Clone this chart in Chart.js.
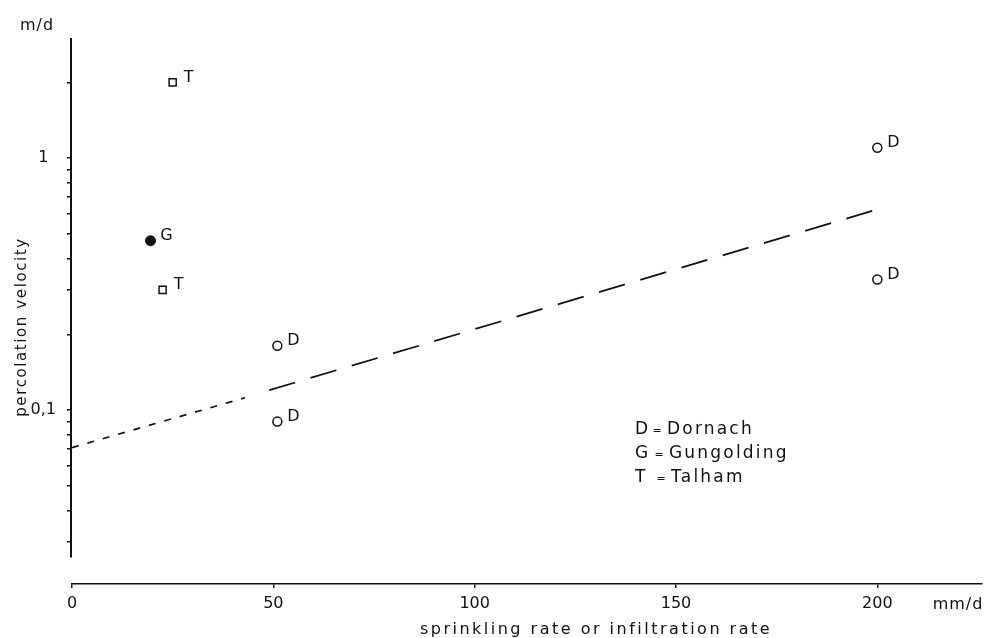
<!DOCTYPE html>
<html>
<head>
<meta charset="utf-8">
<script src="https://cdn.jsdelivr.net/npm/chart.js@4.4.1/dist/chart.umd.min.js"></script>
<style>
  html, body { margin: 0; padding: 0; background: #fff; }
  #chart { display: block; }
</style>
</head>
<body>
<canvas id="chart" width="992" height="638"></canvas>
<script>
// values (x in mm/d, y in m/d)
const dornachX = [51, 51, 200, 200];
const dornachY = [0.18, 0.09, 1.1, 0.33];
const gungoldingX = [19.5];
const gungoldingY = [0.47];
const talhamX = [25, 22.5];
const talhamY = [2.0, 0.3];

// regression line: extrapolated (short dashes) and fitted part (long dashes)
const fitExtraX = [0, 43];
const fitExtraY = [0.071, 0.112];
const fitX = [49, 202];
const fitY = [0.12, 0.64];

const xTickValues = [0, 50, 100, 150, 200];
const yTickValues = [0.03, 0.04, 0.05, 0.06, 0.07, 0.08, 0.09, 0.1, 0.2, 0.3, 0.4, 0.5, 0.6, 0.7, 0.8, 0.9, 1, 2];
const yLabelValues = [0.1, 1];
const yLabelTexts = ['0,1', '1'];
const yAxisFrom = 0.026, yAxisTo = 3;

const legendKeys = ['D', 'G', 'T'];
const legendNames = ['Dornach', 'Gungolding', 'Talham'];

const FONT = '"DejaVu Sans", sans-serif';
const INK = '#111';

const pts = (xs, ys) => xs.map((x, i) => ({ x, y: ys[i] }));

// text, axis line and point tags drawn on top of the chart
const annotate = {
    id: 'annotate',
    afterDraw(chart) {
        const ctx = chart.ctx;
        const xs = chart.scales.x, ys = chart.scales.y;
        ctx.save();
        ctx.fillStyle = INK;
        ctx.strokeStyle = INK;

        // y axis line (stops short of the x axis)
        ctx.lineWidth = 2;
        ctx.beginPath();
        ctx.moveTo(xs.left - 1, ys.getPixelForValue(yAxisTo));
        ctx.lineTo(xs.left - 1, ys.getPixelForValue(yAxisFrom));
        ctx.stroke();

        ctx.textBaseline = 'middle';
        ctx.textAlign = 'center';
        ctx.letterSpacing = '1px';
        ctx.font = '16px ' + FONT;
        ctx.fillText('m/d', 37, 26);
        ctx.fillText('mm/d', 958, xs.top + 21);

        // axis titles
        ctx.letterSpacing = '2.5px';
        ctx.font = '16px ' + FONT;
        ctx.fillText('sprinkling rate or infiltration rate', 596, 630);
        ctx.save();
        ctx.translate(22, 327);
        ctx.rotate(-Math.PI / 2);
        ctx.letterSpacing = '1.6px';
        ctx.font = '15px ' + FONT;
        ctx.fillText('percolation velocity', 0, 0);
        ctx.restore();

        // point tags
        ctx.letterSpacing = '0px';
        ctx.font = '16px ' + FONT;
        chart.data.datasets.forEach((ds, i) => {
            if (!ds.tag) return;
            chart.getDatasetMeta(i).data.forEach(p => {
                ctx.fillText(ds.tag, p.x + 16, p.y - 5);
            });
        });

        // key
        legendKeys.forEach((k, i) => {
            const y = 430 + i * 24;
            ctx.letterSpacing = '0px';
            ctx.textAlign = 'left';
            ctx.font = '17px ' + FONT;
            ctx.fillText(k, 635, y);
            ctx.textAlign = 'center';
            ctx.font = '11px ' + FONT;
            ctx.fillText('=', 657 + i * 2, y + 1);
            ctx.textAlign = 'left';
            ctx.font = '17px ' + FONT;
            ctx.letterSpacing = '2.2px';
            ctx.fillText(legendNames[i], 667 + i * 2, y);
        });
        ctx.restore();
    }
};

new Chart(document.getElementById('chart').getContext('2d'), {
    type: 'scatter',
    data: {
        datasets: [
            {
                data: pts(fitExtraX, fitExtraY), showLine: true, pointRadius: 0,
                borderColor: INK, borderWidth: 1.7, borderDash: [7, 9]
            },
            {
                data: pts(fitX, fitY), showLine: true, pointRadius: 0,
                borderColor: INK, borderWidth: 1.7, borderDash: [27, 16]
            },
            {
                tag: 'D', data: pts(dornachX, dornachY), pointStyle: 'circle',
                pointRadius: 4.5, borderWidth: 1.5, borderColor: INK, backgroundColor: '#fff'
            },
            {
                tag: 'G', data: pts(gungoldingX, gungoldingY), pointStyle: 'circle',
                pointRadius: 5, borderWidth: 1, borderColor: INK, backgroundColor: INK
            },
            {
                tag: 'T', data: pts(talhamX, talhamY), pointStyle: 'rect',
                pointRadius: 5, borderWidth: 1.5, borderColor: INK, backgroundColor: '#fff'
            }
        ]
    },
    options: {
        responsive: false,
        animation: false,
        layout: { padding: { top: 38, right: 10, left: 0, bottom: 0 } },
        plugins: { legend: { display: false }, tooltip: { enabled: false } },
        scales: {
            x: {
                type: 'linear', min: 0, max: 226,
                afterBuildTicks: s => { s.ticks = xTickValues.map(v => ({ value: v })); },
                afterFit: s => { s.height = 54; },
                border: { display: true, color: INK, width: 1.5 },
                grid: { drawOnChartArea: false, drawTicks: true, tickLength: 4, color: INK, lineWidth: 1.5 },
                ticks: { color: INK, font: { family: FONT, size: 16 }, padding: 6, maxRotation: 0 }
            },
            y: {
                type: 'logarithmic', min: 0.0204, max: 3,
                afterBuildTicks: s => { s.ticks = yTickValues.map(v => ({ value: v })); },
                afterFit: s => { s.width = 72; },
                border: { display: false },
                grid: { drawOnChartArea: false, drawTicks: true, tickLength: 5, color: INK, lineWidth: 1.5 },
                ticks: {
                    color: INK, font: { family: FONT, size: 16 }, padding: 11, crossAlign: 'center',
                    autoSkip: false,
                    callback: v => {
                        const k = yLabelValues.indexOf(v);
                        return k >= 0 ? yLabelTexts[k] : '';
                    }
                }
            }
        }
    },
    plugins: [annotate]
});
</script>
</body>
</html>
